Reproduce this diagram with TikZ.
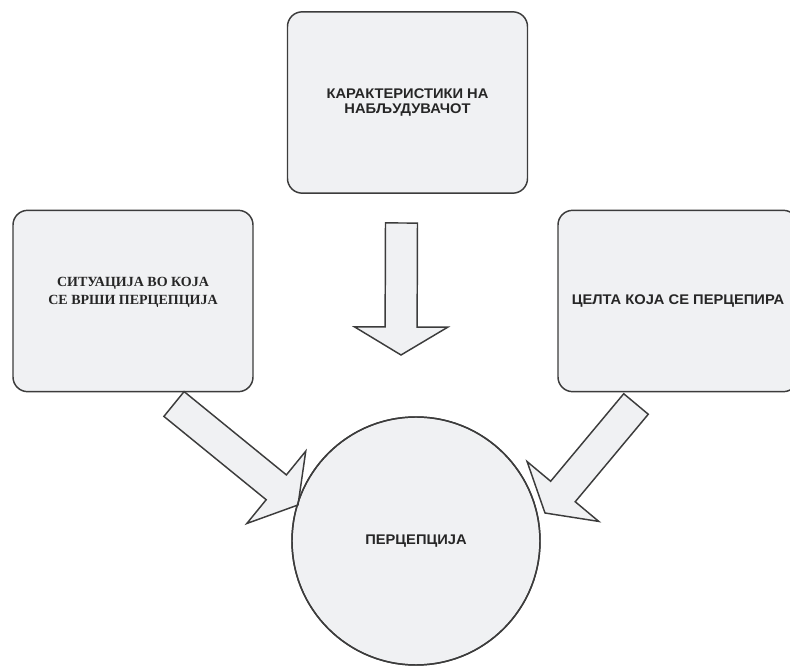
\documentclass[tikz,border=0pt]{standalone}
\usepackage{fontspec}
\setmainfont{Liberation Serif}
\setsansfont{Liberation Sans}[FakeStretch=1.05]
\usepackage{tikz}
\usetikzlibrary{calc}

\definecolor{boxfill}{HTML}{F0F1F3}
\definecolor{boxline}{HTML}{3C3C3C}

% block arrow from a tail coordinate to a tip coordinate
\newcommand{\blockarrow}[3]{%
  \coordinate (#3-h) at ($(#2)!21pt!(#1)$);
  \draw[bigarrow] ($(#1)!12pt!90:(#2)$) -- ($(#3-h)!12pt!-90:(#1)$) -- ($(#3-h)!35pt!-90:(#1)$)
    -- (#2) -- ($(#3-h)!35pt!90:(#1)$) -- ($(#3-h)!12pt!90:(#1)$) -- ($(#1)!12pt!-90:(#2)$) -- cycle;
}

\begin{document}
\begin{tikzpicture}[
  x=0.75pt, y=-0.75pt,
  box/.style={draw=boxline, fill=boxfill, line width=1.1pt, rounded corners=11pt, minimum width=180pt, minimum height=136pt},
  ring/.style={draw=boxline, fill=boxfill, line width=1.1pt, circle, minimum size=186pt, inner sep=0pt},
  bigarrow/.style={draw=boxline, fill=boxfill, line width=1.1pt, line join=miter},
  sanslbl/.style={font=\sffamily\bfseries\fontsize{10.5}{11.5}\selectfont, align=center, text=black!85},
  seriflbl/.style={font=\rmfamily\bfseries\fontsize{10.5}{13.5}\selectfont, align=center, text=black!85}
]
  \useasboundingbox (0,0) rectangle (790,666);

  % boxes
  \node[box] (obs) at (407.5,102.5) {};
  \node[box] (sit) at (133,301) {};
  \node[box] (tgt) at (678,301) {};
  \node[sanslbl] (obsText) at (obs.center) {КАРАКТЕРИСТИКИ НА\\НАБЉУДУВАЧОТ};
  \node[seriflbl] (sitText) at ($(sit.center)+(0,-9)$) {СИТУАЦИЈА ВО КОЈА\\СЕ ВРШИ ПЕРЦЕПЦИЈА};
  \node[sanslbl] (tgtText) at (tgt.center) {ЦЕЛТА КОЈА СЕ ПЕРЦЕПИРА};

  % perception
  \node[ring] (perc) at (416,541) {};

  % arrows
  \coordinate (obsTail) at (401.5,223);
  \coordinate (obsTip) at (401,355);
  \coordinate (sitTail) at (174,404);
  \coordinate (sitTip) at (298,505);
  \coordinate (tgtTail) at (636,404);
  \coordinate (tgtTip) at (545,513);
  \blockarrow{obsTail}{obsTip}{a1}
  \blockarrow{sitTail}{sitTip}{a2}
  \blockarrow{tgtTail}{tgtTip}{a3}

  \draw[boxline, line width=1.1pt] (perc.center) circle[radius=93pt];
  \node[sanslbl] (percText) at (perc.center) {ПЕРЦЕПЦИЈА};
\end{tikzpicture}
\end{document}
